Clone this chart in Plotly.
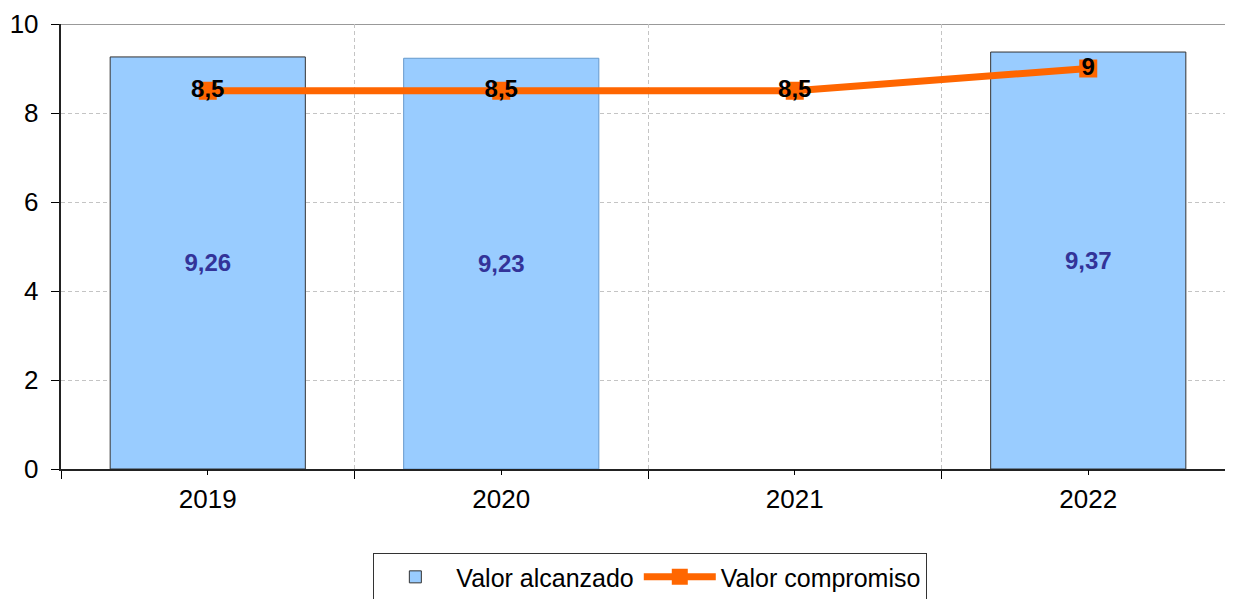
import plotly.graph_objects as go

years = ["2019", "2020", "2021", "2022"]
valor_alcanzado = [9.26, 9.23, None, 9.37]
valor_compromiso = [8.5, 8.5, 8.5, 9]
bar_labels = ["9,26", "9,23", "", "9,37"]
line_labels = ["8,5", "8,5", "8,5", "9"]
bar_borders = ["#333333", "#6699CC", "#333333", "#333333"]

FONT = "Liberation Sans, Arial, sans-serif"
GRID = "#C4C4C4"

fig = go.Figure()
fig.add_trace(go.Bar(
    x=years, y=valor_alcanzado, name="Valor alcanzado",
    marker=dict(color="#99CCFF", line=dict(color=bar_borders, width=1)),
    width=0.665,
    text=bar_labels, textposition="inside", insidetextanchor="middle",
    textfont=dict(family=FONT, size=24, color="#333399", weight="bold"),
    textangle=0, cliponaxis=False,
))
fig.add_trace(go.Scatter(
    x=years, y=valor_compromiso, name="Valor compromiso",
    mode="lines+markers+text",
    line=dict(color="#FF6600", width=7),
    marker=dict(symbol="square", size=18, color="#FF6600"),
    text=line_labels, textposition="middle center",
    textfont=dict(family=FONT, size=24, color="#000000", weight="bold"),
    cliponaxis=False,
))
# invisible trace to carry centre tick marks on the overlay axis
fig.add_trace(go.Scatter(x=years, y=valor_compromiso, xaxis="x2", mode="none",
                         showlegend=False, hoverinfo="skip"))

fig.add_shape(type="line", xref="paper", yref="y", x0=0, x1=1, y0=10, y1=10,
              line=dict(color="#999999", width=2), layer="below")

fig.update_layout(
    width=1233, height=599,
    margin=dict(l=53, r=6, t=16, b=138, autoexpand=False),
    paper_bgcolor="white", plot_bgcolor="white",
    separators=",.",
    font=dict(family=FONT, size=23, color="#000000"),
    bargap=0.335,
    showlegend=True,
    legend=dict(orientation="h", x=0.502, xanchor="center", y=-0.189, yanchor="top",
                bordercolor="#333333", borderwidth=1, bgcolor="white",
                font=dict(family=FONT, size=25, color="#000000"),
                traceorder="normal", itemwidth=72),
    xaxis=dict(type="category", categoryorder="array", categoryarray=years,
               range=[-0.5, 3.5], tickson="boundaries", ticks="outside", ticklen=8,
               tickcolor="#000000", showline=True, linecolor="#222222", linewidth=2,
               showgrid=True, gridcolor=GRID, griddash="4px,3px", gridwidth=1,
               automargin=False, ticklabelstandoff=6,
               tickfont=dict(family=FONT, size=26, color="#000000")),
    xaxis2=dict(type="category", categoryorder="array", categoryarray=years,
                overlaying="x", range=[-0.5, 3.5], ticks="outside", ticklen=5,
                tickcolor="#000000", showticklabels=False, showgrid=False,
                showline=False, zeroline=False, side="bottom", anchor="y",
                automargin=False),
    yaxis=dict(range=[0, 10], dtick=2, ticks="outside", ticklen=8, tickcolor="#000000",
               showline=True, linecolor="#222222", linewidth=2,
               showgrid=True, gridcolor=GRID, griddash="4px,3px", gridwidth=1,
               zeroline=False, ticksuffix=" ", automargin=False,
               tickfont=dict(family=FONT, size=26, color="#000000")),
)

fig.write_html("out.html")
